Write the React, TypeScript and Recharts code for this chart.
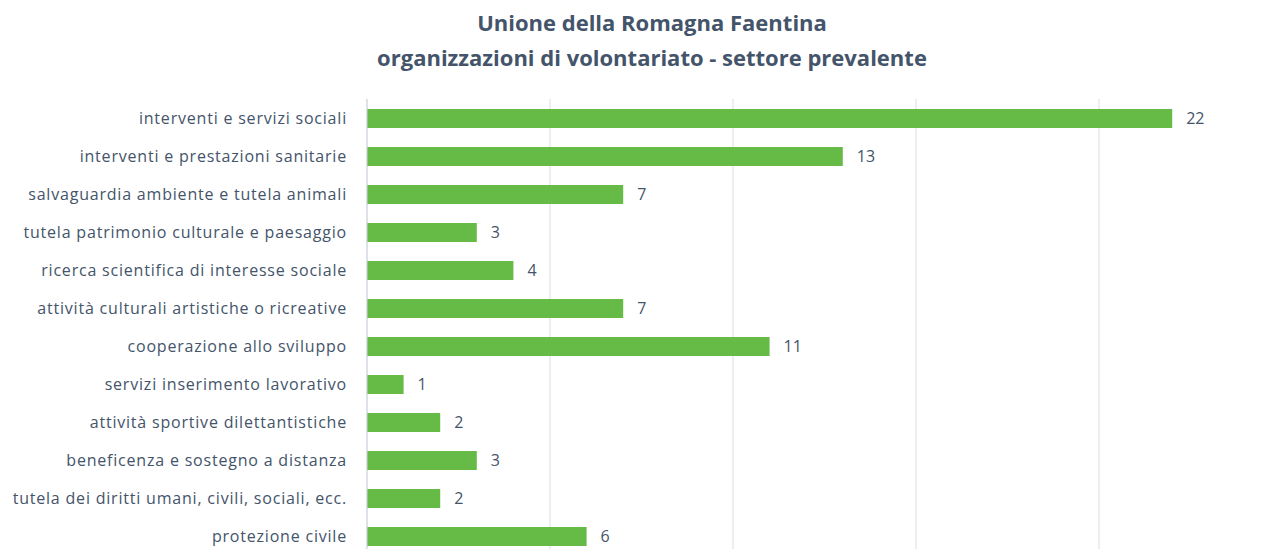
import { BarChart, Bar, XAxis, YAxis, CartesianGrid, LabelList } from 'recharts';

const categories = [
  'interventi e servizi sociali',
  'interventi e prestazioni sanitarie',
  'salvaguardia ambiente e tutela animali',
  'tutela patrimonio culturale e paesaggio',
  'ricerca scientifica di interesse sociale',
  'attività culturali artistiche o ricreative',
  'cooperazione allo sviluppo',
  'servizi inserimento lavorativo',
  'attività sportive dilettantistiche ',
  'beneficenza e sostegno a distanza',
  'tutela dei diritti umani, civili, sociali, ecc.',
  'protezione civile',
];
const counts = [22, 13, 7, 3, 4, 7, 11, 1, 2, 3, 2, 6];
const xTicks = [0, 5, 10, 15, 20, 25];
const titleLines = ['Unione della Romagna Faentina', 'organizzazioni di volontariato - settore prevalente'];

const data = categories.map((name, i) => ({ name, value: counts[i] }));

const textColor = '#44546A';
const font = '"Open Sans", "Noto Sans", sans-serif';

export default function App() {
  return (
    <div style={{ position: 'relative', width: 1269, height: 541, overflow: 'hidden', fontFamily: font }}>
      <div
        style={{
          position: 'absolute',
          left: 0,
          top: 0,
          width: 1288,
          textAlign: 'center',
          color: textColor,
          fontWeight: 700,
          fontSize: 22,
          lineHeight: '28px',
        }}
      >
        {titleLines.map((t, i) => (
          <div key={t} style={{ marginTop: i ? 7 : 0 }}>
            {t}
          </div>
        ))}
      </div>
      <div style={{ position: 'absolute', left: 0, top: 0 }}>
        <BarChart
          width={1274}
          height={547}
          data={data}
          layout="vertical"
          margin={{ top: 91, right: 0, bottom: 0, left: 0 }}
        >
          <CartesianGrid horizontal={false} stroke="#D9DDE3" ticks={xTicks} />
          <XAxis type="number" domain={[0, 25]} ticks={xTicks} hide />
          <YAxis
            type="category"
            dataKey="name"
            width={359}
            axisLine={{ stroke: '#D0D5DC' }}
            tickLine={false}
            tickMargin={14}
            interval={0}
            tick={{ fill: textColor, fontSize: 16, fontFamily: font, letterSpacing: 0.8 }}
          />
          <Bar dataKey="value" fill="#65BB46" barSize={19} isAnimationActive={false}>
            <LabelList
              dataKey="value"
              position="right"
              offset={14}
              style={{ fill: textColor, fontSize: 16, fontFamily: font }}
            />
          </Bar>
        </BarChart>
      </div>
    </div>
  );
}
